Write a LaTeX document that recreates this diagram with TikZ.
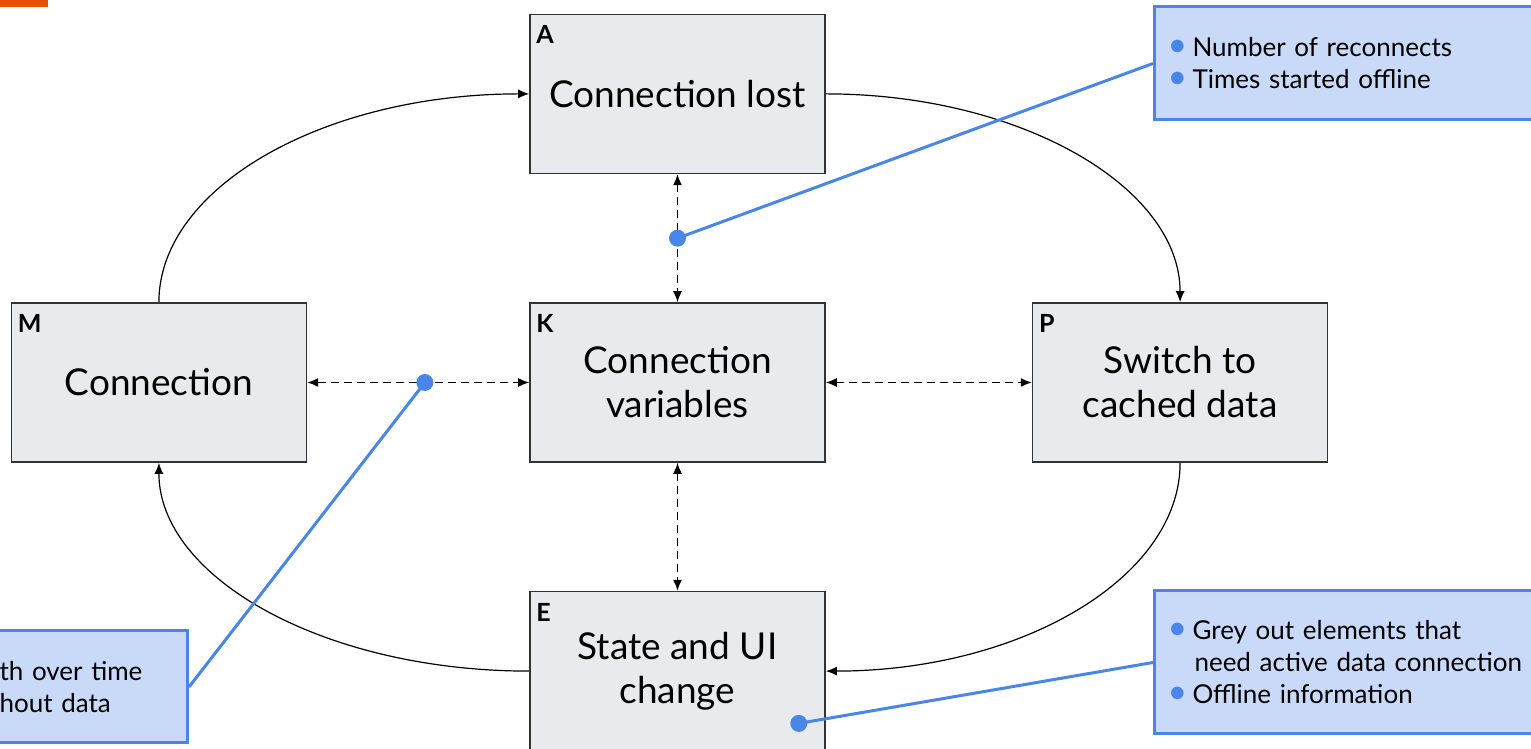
\documentclass[tikz,border=0pt]{standalone}
\usepackage{fontspec}
\setmainfont{Lato}
\usepackage{tikz}
\usetikzlibrary{positioning}
\usetikzlibrary{calc}
\usetikzlibrary{arrows.meta}

\definecolor{boxgrey}{HTML}{E8EAED}
\definecolor{boxline}{HTML}{333333}
\definecolor{callfill}{HTML}{C9DAF8}
\definecolor{callblue}{HTML}{4A86E8}
\definecolor{barorange}{HTML}{E65100}

\tikzset{
  stage/.style={draw=boxline, fill=boxgrey, line width=1.6pt,
    minimum width=295pt, minimum height=159pt, align=center,
    font=\fontsize{37}{44}\selectfont},
  tag/.style={anchor=north west, font=\bfseries\fontsize{25}{25}\selectfont,
    xshift=5pt, yshift=-10pt, inner sep=2pt},
  flow/.style={->, line width=1.2pt},
  link/.style={<->, dash pattern=on 8pt off 5pt, line width=1.4pt},
  callout/.style={draw=callblue, fill=callfill, line width=3pt, align=left,
    inner xsep=13pt, font=\fontsize{26}{32}\selectfont},
  pin/.style={callblue, line width=3pt},
}
\newcommand{\bul}{\makebox[25pt][l]{\textcolor{callblue}{\scalebox{1.3}{\textbullet}}}}

\begin{document}
\begin{tikzpicture}[x=1pt, y=1pt, >={Latex[length=11pt,width=9pt]}]
    \useasboundingbox (0,0) rectangle (1531,749);
    \clip (0,0) rectangle (1531,749);
    \fill[barorange] (0,742) rectangle (48,749);

    % the five stages
    \node[stage, label={[tag]north west:K}] (vars) at (677.5,366.5) {Connection\\variables};
    \node[stage, above=128pt of vars, label={[tag]north west:A}] (lost) {Connection lost};
    \node[stage, left=222pt of vars, label={[tag]north west:M}] (conn) {Connection};
    \node[stage, right=206pt of vars, label={[tag]north west:P}] (cached) {Switch to\\cached data};
    \node[stage, below=128pt of vars, label={[tag]north west:E}] (ui) {State and UI\\change};

    % the cycle
    \draw[flow] (conn.north) .. controls +(0,115) and +(-205,0) .. (lost.west);
    \draw[flow] (lost.east) .. controls +(195,0) and +(0,115) .. (cached.north);
    \draw[flow] (cached.south) .. controls +(0,-115) and +(195,0) .. (ui.east);
    \draw[flow] (ui.west) .. controls +(-205,0) and +(0,-115) .. (conn.south);

    % links to the variables
    \draw[link] (lost) -- (vars);
    \draw[link] (conn) -- (vars);
    \draw[link] (vars) -- (cached);
    \draw[link] (vars) -- (ui);

    % notes
    \node[callout, text width=390pt, minimum height=113pt, anchor=west] (noteA) at (1153,685.5)
        {\bul Number of reconnects\\\bul Times started offline};
    \node[callout, text width=390pt, minimum height=143pt, anchor=west] (noteE) at (1153,86.5)
        {\bul Grey out elements that\\\hspace*{27pt}need active data connection\\\bul Offline information};
    \node[callout, inner xsep=20pt, text width=168pt, minimum height=112pt, anchor=east] (noteM) at (189,62)
        {th over time\\hout data};

    \coordinate (d1) at ($(lost.south)!0.5!(vars.north)$);
    \coordinate (d2) at ($(conn.east)!0.53!(vars.west)$);
    \coordinate (d3) at ($(ui.south east)+(-27,28)$);
    \draw[pin] (d1) -- (noteA.west);
    \draw[pin] (d2) -- (noteM.east);
    \draw[pin] (d3) -- (noteE.west);
    \fill[callblue] (d1) circle (8.5pt);
    \fill[callblue] (d2) circle (8.5pt);
    \fill[callblue] (d3) circle (8.5pt);
\end{tikzpicture}
\end{document}
